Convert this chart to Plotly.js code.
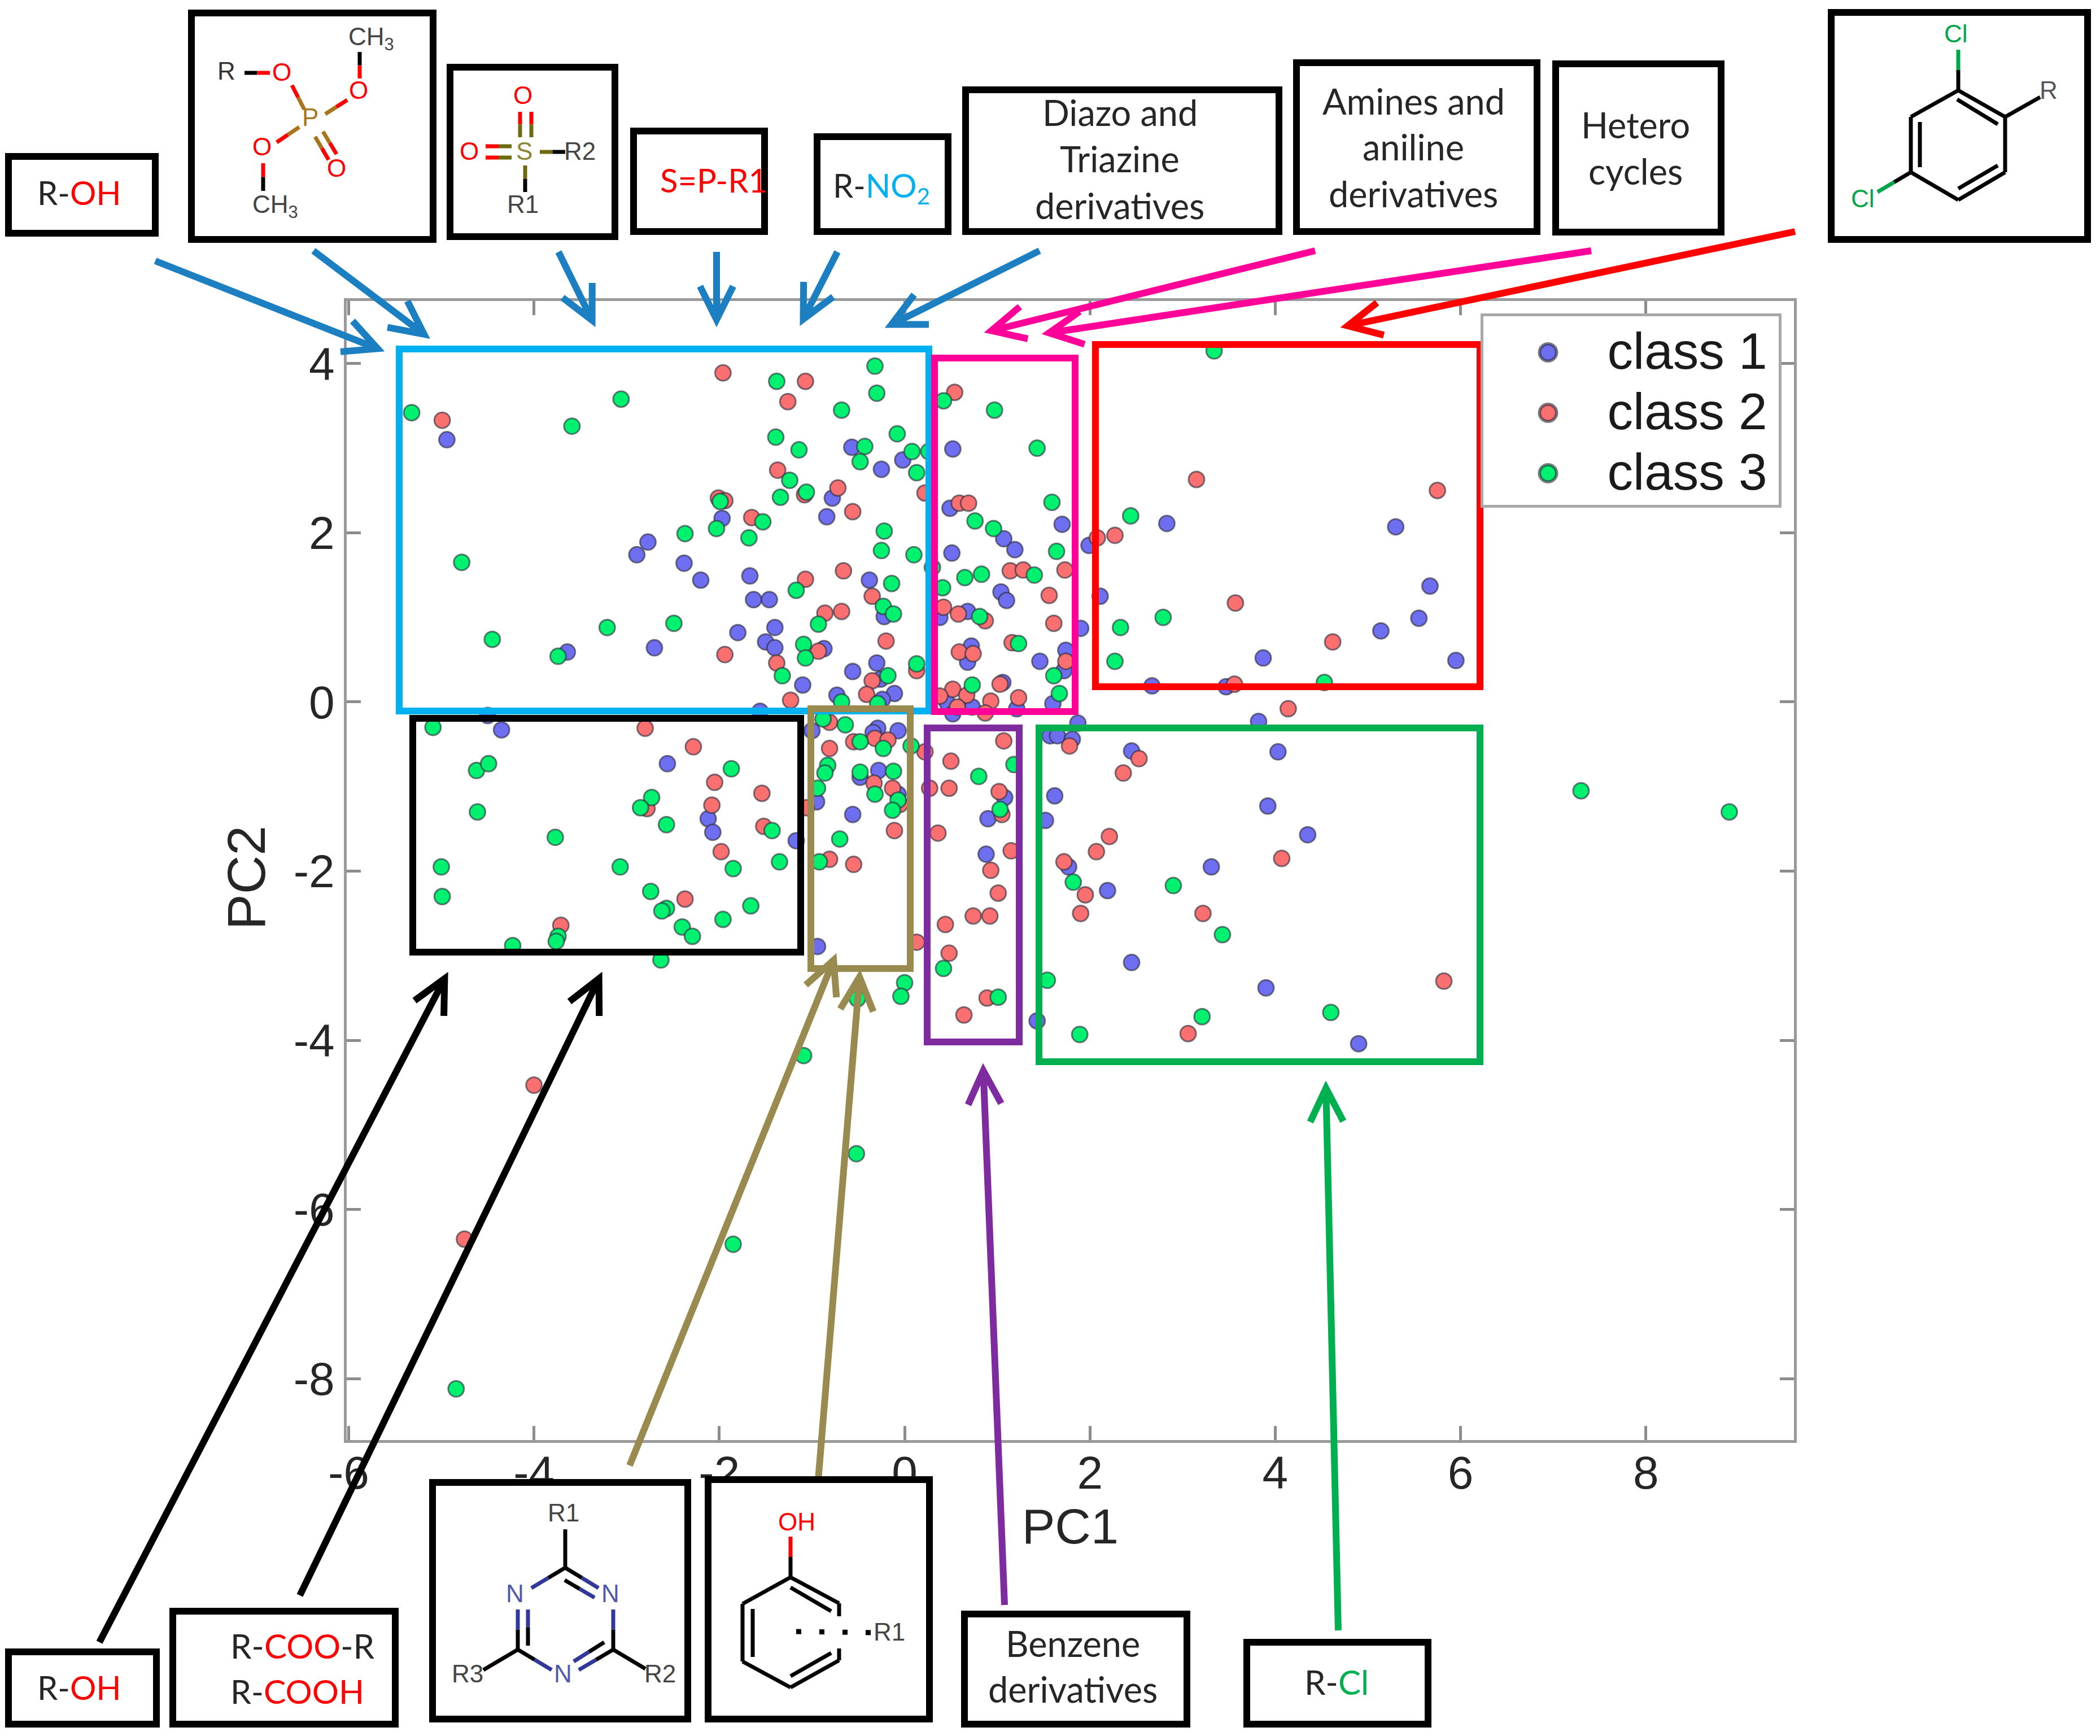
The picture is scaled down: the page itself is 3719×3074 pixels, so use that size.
<!DOCTYPE html>
<html><head><meta charset="utf-8">
<script src="https://cdn.plot.ly/plotly-3.0.1.min.js"></script>
<style>html,body{margin:0;padding:0;background:#fff}</style></head>
<body><div id="chart" style="width:3719px;height:3074px"></div>
<script>
// ---------- data ----------
const class1X = [-0.57,0.52,-0.02,-0.25,-0.78,0.49,-0.84,1.70,-1.97,1.07,1.19,-2.77,-2.89,0.51,-2.38,-2.20,-1.67,-0.38,-1.63,-1.46,1.04,1.10,0.68,-0.22,0.38,-1.40,-1.80,-1.50,-1.40,-0.87,-2.70,-3.64,-0.30,-0.56,0.72,0.68,1.46,1.74,1.72,-1.10,-0.26,1.06,-0.11,-0.73,-0.24,1.60,0.46,0.73,-1.56,1.21,0.52,
 -2.56,-1.00,-0.29,-0.34,-0.07,-0.28,-0.48,-0.07,1.08,-0.95,-0.56,0.90,-2.12,-2.07,-1.17,0.88,-0.94,
 5.67,2.11,5.55,5.14,1.90,3.87,5.95,2.67,3.47,1.87,3.82,1.57,1.65,1.81,2.45,4.03,1.62,3.92,1.52,4.35,1.77,3.31,2.19,2.45,3.90,1.43,4.90,
 5.30,2.83,1.99,-4.94,-4.35,-4.50];
const class1Y = [3.01,2.99,2.86,2.75,2.41,2.29,2.19,2.10,2.17,1.93,1.80,1.89,1.74,1.76,1.64,1.44,1.49,1.44,1.21,1.21,1.30,1.20,1.07,1.01,1.00,0.88,0.82,0.71,0.64,0.63,0.64,0.59,0.46,0.36,0.66,0.47,0.48,0.61,0.37,0.20,0.27,0.23,0.10,0.08,0.03,-0.02,-0.01,-0.06,-0.11,-0.08,-0.14,
 -0.73,-0.34,-0.31,-0.36,-0.34,-0.81,-0.89,-1.09,-1.13,-1.18,-1.33,-1.38,-1.38,-1.54,-1.64,-1.80,-2.89,
 1.37,1.25,0.99,0.84,0.87,0.52,0.49,0.19,0.18,-0.25,-0.23,-0.40,-0.40,-0.44,-0.58,-0.59,-1.11,-1.23,-1.40,-1.57,-1.95,-1.95,-2.23,-3.08,-3.38,-3.77,-4.04,
 2.07,2.11,1.85,3.10,-0.33,-0.16];
const class2X = [-1.96,-1.07,-1.26,0.54,-1.37,-0.72,0.22,-2.01,-1.94,-1.08,-1.65,-0.56,0.59,0.69,-0.66,-1.07,1.14,1.28,1.73,-0.35,1.56,-0.86,-0.68,0.42,0.58,0.87,1.61,-0.20,-1.94,-0.93,1.16,0.59,0.74,-1.38,0.13,-0.35,1.74,1.03,0.52,-0.41,0.38,0.67,1.23,0.93,-1.23,0.57,0.87,
 -2.80,-0.81,-2.28,-0.81,-0.55,-0.32,-0.18,0.22,1.07,0.50,-2.05,-0.33,-0.13,-1.54,0.27,0.48,1.02,-2.08,1.05,-2.78,-1.06,-1.52,-0.11,0.36,1.15,-1.98,-0.81,-0.55,0.93,1.01,-2.37,0.74,0.92,0.44,0.13,0.48,0.89,0.64,-0.05,
 3.57,4.62,3.56,4.14,1.78,2.53,2.36,2.21,2.07,1.72,4.07,1.95,1.90,3.22,5.82,3.06,
 3.15,5.75,2.27,2.08,-4.99,-3.71,-4.00,-4.75];
const class2Y = [3.89,3.79,3.55,3.66,2.74,2.53,2.47,2.41,2.38,2.45,2.18,2.25,2.35,2.35,1.55,1.45,1.55,1.56,1.56,1.25,1.26,1.05,1.07,1.12,1.04,0.96,0.93,0.72,0.56,0.60,0.70,0.59,0.57,0.46,0.37,0.25,0.48,0.21,0.15,0.09,0.07,0.08,0.05,0.01,0.02,-0.06,-0.13,
 -0.31,-0.24,-0.53,-0.55,-0.47,-0.43,-0.45,-0.59,-0.46,-0.70,-0.95,-0.96,-1.02,-1.08,-1.02,-1.02,-1.06,-1.22,-1.33,-1.26,-1.25,-1.47,-1.52,-1.55,-1.76,-1.77,-1.86,-1.92,-1.99,-2.26,-2.33,-2.53,-2.53,-2.63,-2.84,-2.97,-3.50,-3.70,-1.21,
 1.17,0.71,0.21,-0.08,-0.52,-0.67,-0.84,-1.59,-1.77,-1.89,-1.85,-2.28,-2.50,-2.50,-3.30,-3.92,
 2.63,2.50,1.97,1.94,3.33,-2.64,-4.53,-6.35];
const class3X = [-0.32,-1.38,-0.30,-3.06,-3.59,-0.68,0.42,0.97,-0.08,-1.39,-1.14,-0.43,0.08,0.26,-0.48,0.13,-1.24,1.43,-1.34,-1.06,-1.99,1.59,0.76,0.96,-1.53,-2.03,-2.37,-1.68,-0.22,-0.25,0.10,1.64,0.30,0.83,0.65,1.40,0.41,-0.14,-1.17,-0.23,-0.12,-0.93,0.81,-3.21,-2.49,1.23,-1.09,-1.07,-1.32,0.13,-0.18,1.61,0.73,1.67,-0.68,-0.29,
 -0.88,-0.64,-0.48,-0.23,0.07,-1.87,-0.83,-0.86,0.80,1.18,-0.48,-0.12,-2.73,-2.85,-0.94,-0.32,-0.07,-0.13,1.03,-2.57,-1.43,-0.70,-1.35,-0.92,-3.07,-1.85,-2.74,-2.57,-2.62,-1.66,-1.96,-2.40,-2.29,-2.63,0.42,0.00,-0.04,-0.51,1.01,-1.09,
 2.79,2.33,2.27,4.53,1.82,2.90,3.43,1.54,4.60,3.21,1.89,
 3.34,2.44,-5.32,-4.78,-4.45,-3.74,-5.09,-4.62,-4.49,-4.61,-3.77,-5.00,-4.99,-4.23,-3.74,-3.76,-4.84,-1.85,-0.52,7.30,8.90];
const class3Y = [3.97,3.79,3.65,3.58,3.26,3.45,3.56,3.45,3.17,3.13,2.98,3.02,2.96,2.96,2.84,2.71,2.62,3.00,2.42,2.48,2.37,2.36,2.14,2.05,2.13,2.05,1.99,1.94,2.02,1.79,1.74,1.78,1.59,1.51,1.47,1.50,1.35,1.40,1.32,1.13,1.04,0.92,1.01,0.88,0.93,0.69,0.68,0.52,0.31,0.45,0.31,0.31,0.20,0.10,0.00,-0.02,
 -0.20,-0.27,-0.47,-0.55,-0.52,-0.79,-0.75,-0.84,-0.88,-0.74,-0.83,-0.82,-1.13,-1.25,-1.02,-1.09,-1.16,-1.28,-1.27,-1.45,-1.52,-1.62,-1.89,-1.89,-1.95,-1.97,-2.24,-2.44,-2.47,-2.41,-2.57,-2.66,-2.77,-3.05,-3.15,-3.32,-3.48,-3.51,-3.49,-4.18,
 1.00,0.88,0.48,0.23,-2.13,-2.17,-2.75,-3.29,-3.67,-3.72,-3.93,
 4.15,2.20,3.42,1.65,0.74,0.54,-0.30,-0.81,-0.73,-1.30,-1.60,-1.95,-2.30,-2.88,-2.77,-2.83,-8.12,-6.41,-5.34,-1.05,-1.30];
const seriesNames = ['class 1','class 2','class 3'];
const xTickVals = [-6,-4,-2,0,2,4,6,8];
const xTickText = ['-6','-4','-2','0','2','4','6','8'];
const yTickVals = [4,2,0,-2,-4,-6,-8];
const yTickText = ['4','2','0','-2','-4','-6','-8'];

// ---------- page helpers ----------
const W=3719,H=3074;
const px=x=>x/W, py=y=>1-y/H;
const shapes=[], notes=[];
function rect(x0,y0,x1,y1,color,fill){
  shapes.push({type:'rect',xref:'paper',yref:'paper',x0:px(x0),x1:px(x1),y0:py(y0),y1:py(y1),
    line:{color:color,width:12},fillcolor:fill||'rgba(0,0,0,0)'});
}
function seg(x0,y0,x1,y1,color,w){
  shapes.push({type:'line',xref:'paper',yref:'paper',x0:px(x0),x1:px(x1),y0:py(y0),y1:py(y1),
    line:{color:color,width:w||7}});
}
function bond(x0,y0,x1,y1,c0,c1,w){
  const mx=(x0+x1)/2,my=(y0+y1)/2;
  seg(x0,y0,mx,my,c0,w); seg(mx,my,x1,y1,c1||c0,w);
}
function arrow(x0,y0,x1,y1,color,w){
  const a=Math.atan2(y1-y0,x1-x0),L=66,s=0.46;
  const tx=x1-10*Math.cos(a),ty=y1-10*Math.sin(a);
  const ax=tx-L*Math.cos(a-s),ay=ty-L*Math.sin(a-s),bx=tx-L*Math.cos(a+s),by=ty-L*Math.sin(a+s);
  const f=(x,y)=>px(x)+' '+py(y);
  shapes.push({type:'path',xref:'paper',yref:'paper',
    path:'M'+f(x0,y0)+' L'+f(tx,ty)+' M'+f(ax,ay)+' L'+f(tx,ty)+' L'+f(bx,by),
    line:{color:color,width:w||12}});
}
function label(x,y,text,size,color,family,anchor){
  notes.push({xref:'paper',yref:'paper',x:px(x),y:py(y),text:text,showarrow:false,
    xanchor:anchor||'center',yanchor:'middle',
    font:{family:family||'Lato',size:size,color:color||'#262626'}});
}
const RED='#ff0000',K='#000000',BR='#a8741c',OL='#6e6a10',NV='#32389a',GR='#00a648';
const chem='"Liberation Sans"';

// highlight boxes
rect(707,618,1645,1259,'#00b0f0');
rect(1655,634,1904,1260,'#ff0099');
rect(1940,610,2621,1216,'#ff0000');
rect(1840,1289,2621,1880,'#00b050');
rect(1642,1289,1805,1845,'#7e2ba0');
rect(731,1272,1418,1686,'#000000');
rect(1436,1255,1612,1715,'#998a50');

// arrows
const arrowBlue='#1c7fc2';
arrow(275,462,678,621,arrowBlue);
arrow(555,444,759,598,arrowBlue);
arrow(989,446,1053,576,arrowBlue);
arrow(1269,446,1269,576,arrowBlue);
arrow(1483,446,1418,574,arrowBlue);
arrow(1841,444,1570,579,arrowBlue);
arrow(2329,444,1746,588,'#ff0099');
arrow(2818,444,1848,591,'#ff0099');
arrow(3179,410,2377,579,'#ff0000');
arrow(176,2908,792,1724,'#000000');
arrow(531,2825,1065,1724,'#000000');
arrow(1115,2595,1480,1691,'#998a50');
arrow(1449,2621,1523,1720,'#998a50');
arrow(1779,2842,1741,1886,'#7e2ba0');
arrow(2370,2887,2348,1917,'#00b050');

// black label boxes
[[15,277,275,413],[339,23,767,424],[797,119,1089,419],[1122,232,1354,410],[1447,242,1679,410],
 [1710,159,2265,410],[2296,111,2722,410],[2755,113,3048,411],[3243,22,3697,424],
 [766,2625,1218,3044],[1254,2620,1646,3044],[15,2925,277,3053],[306,2853,700,3053],
 [1708,2858,2102,3053],[2208,2908,2529,3053]].forEach(b=>rect(b[0],b[1],b[2],b[3],'#000000','#ffffff'));

// box texts
const s=63, s2=58;
const red=t=>'<span style="color:#ff0000">'+t+'</span>';
label(140,340,'R-'+red('OH'),s2);
label(1264,319,red('S=P-R1'),s2);
label(1561,332,'R-<span style="color:#00b0f0">NO<sub>2</sub></span>',s2);
label(1983,198,'Diazo and',s); label(1983,281,'Triazine',s); label(1983,364,'derivatives',s);
label(2503,179,'Amines and',s); label(2503,259,'aniline',s); label(2503,342,'derivatives',s);
label(2896,221,'Hetero',s); label(2896,302,'cycles',s);
label(140,2987,'R-'+red('OH'),s2);
label(406,2914,'R-'+red('COO')+'-R',60,null,null,'left');
label(406,2994,'R-'+red('COOH'),59,null,null,'left');
label(1900,2909,'Benzene',s); label(1900,2990,'derivatives',s);
label(2367,2978,'R-<span style="color:#00b050">Cl</span>',s2+2);

// phosphate structure
label(401,125,'R',44,'#333',chem); label(499,127,'O',44,RED,chem); label(549,208,'P',44,BR,chem);
label(635,160,'O',44,RED,chem); label(464,259,'O',44,RED,chem); label(596,297,'O',44,RED,chem);
label(657,68,'CH<sub>3</sub>',44,'#444',chem); label(488,365,'CH<sub>3</sub>',44,'#444',chem);
bond(433,129,478,129,K,RED); bond(517,151,539,194,RED,BR); bond(615,177,576,202,RED,BR);
bond(637,139,637,92,RED,K); bond(490,252,530,225,RED,BR); bond(466,289,466,338,RED,K);
bond(558,242,582,283,BR,RED); bond(572,233,596,273,BR,RED);
// sulfonyl structure
label(926,168,'O',44,RED,chem); label(928,267,'S',44,'#8a8630',chem); label(831,267,'O',44,RED,chem);
label(1027,267,'R2',44,'#444',chem); label(926,362,'R1',44,'#444',chem);
bond(921,198,921,243,RED,OL); bond(941,198,941,243,RED,OL);
bond(860,259,906,259,RED,OL); bond(860,279,906,279,RED,OL);
bond(956,269,1001,269,OL,K); bond(930,293,930,340,OL,K);
// dichlorophenyl structure
label(3464,60,'Cl',44,GR,chem); label(3628,160,'R',44,'#555',chem); label(3299,352,'Cl',44,GR,chem);
[[3468,160,3551,207],[3551,207,3551,305],[3551,305,3468,354],[3468,354,3384,305],[3384,305,3384,207],[3384,207,3468,160],
 [3466,176,3538,220],[3400,216,3400,296],[3468,334,3538,293],[3551,207,3613,172]].forEach(b=>seg(b[0],b[1],b[2],b[3],K));
bond(3468,88,3468,160,GR,K); bond(3325,340,3384,305,GR,K);
// triazine structure
label(998,2678,'R1',44,'#444',chem); label(912,2821,'N',44,'#5058a8',chem); label(1081,2821,'N',44,'#5058a8',chem);
label(997,2963,'N',44,'#5058a8',chem); label(828,2963,'R3',44,'#444',chem); label(1169,2963,'R2',44,'#444',chem);
seg(1001,2708,1001,2776,K);
bond(1001,2776,941,2812,K,NV); bond(1001,2776,1060,2812,K,NV); bond(1000,2798,1053,2829,K,NV);
bond(917,2850,917,2921,NV,K); bond(935,2850,935,2914,NV,K); bond(1086,2850,1086,2921,NV,K);
bond(917,2921,977,2957,K,NV); bond(1086,2921,1025,2957,K,NV); bond(1070,2908,1016,2942,K,NV);
seg(917,2921,856,2957,K); seg(1086,2921,1143,2955,K);
// phenol structure
label(1411,2694,'OH',44,RED,chem); label(1575,2889,'R1',44,'#444',chem);
bond(1400,2721,1400,2793,RED,K);
[[1400,2793,1486,2839],[1486,2839,1486,2862],[1400,2793,1315,2840],[1315,2840,1315,2942],[1315,2942,1400,2988],
 [1400,2988,1486,2940],[1486,2940,1486,2919],[1400,2811,1472,2853],[1333,2849,1333,2934],[1400,2968,1472,2927]]
 .forEach(b=>seg(b[0],b[1],b[2],b[3],K));
shapes.push({type:'line',xref:'paper',yref:'paper',x0:px(1410),x1:px(1545),y0:py(2889),y1:py(2891),
  line:{color:K,width:9,dash:'9px,32px'}});

// ---------- chart ----------
const colors=['#6e6ef0','#fa7070','#00f070'];
const mk=(i)=>({color:colors[i],size:28,line:{color:'rgba(45,45,60,0.62)',width:3}});
const traces=[[class1X,class1Y],[class2X,class2Y],[class3X,class3Y]].map((d,i)=>({
  type:'scatter',mode:'markers',x:d[0],y:d[1],name:seriesNames[i],marker:mk(i),cliponaxis:true}));
const tickFont={family:'"Liberation Sans"',size:82,color:'#262626'};
const axis={showgrid:false,zeroline:false,showline:true,mirror:'ticks',linecolor:'#9a9a9a',linewidth:5,
  ticks:'inside',ticklen:25,tickwidth:5,tickcolor:'#8c8c8c',tickmode:'array',tickfont:tickFont};
const layout={width:W,height:H,margin:{l:0,r:0,t:0,b:0},paper_bgcolor:'#fff',plot_bgcolor:'#fff',
  xaxis:Object.assign({},axis,{domain:[614/W,3176.5/W],range:[-6.021,9.595],tickvals:xTickVals,ticktext:xTickText,
    ticklabelstandoff:-17,
    title:{text:'PC1',standoff:20,font:{family:'"Liberation Sans"',size:88,color:'#262626'}}}),
  yaxis:Object.assign({},axis,{domain:[1-2549.5/H,1-532.5/H],range:[-8.722,4.743],tickvals:yTickVals,ticktext:yTickText,
    title:{text:'PC2&nbsp;',standoff:20,font:{family:'"Liberation Sans"',size:95,color:'#262626'}}}),
  showlegend:true,
  legend:{x:2621.5/W,y:1-555/H,xanchor:'left',yanchor:'top',bgcolor:'#fff',bordercolor:'#a8a8a8',borderwidth:5,
    itemwidth:210,itemclick:false,font:{family:'"Liberation Sans"',size:91,color:'#1a1a1a'}},
  shapes:shapes,annotations:notes};
const legendRowCentres=[621,728,835];
Plotly.newPlot('chart',traces,layout,{displayModeBar:false,responsive:false}).then(()=>{
  const bg=document.querySelector('.legend .bg');
  if(bg){bg.setAttribute('width',528);bg.setAttribute('height',339);}
  document.querySelectorAll('.legend .traces').forEach((g,i)=>{
    const t=g.querySelector('.legendtext'), r=t.getBoundingClientRect();
    const m=/translate\(\s*([-\d.]+)[ ,]+([-\d.]+)\s*\)/.exec(g.getAttribute('transform')||'');
    if(m){const dy=legendRowCentres[i]-(r.top+r.bottom)/2;
      g.setAttribute('transform','translate('+m[1]+','+(parseFloat(m[2])+dy)+')');}
  });
  document.querySelectorAll('.legend .scatterpts').forEach(p=>{
    p.setAttribute('transform',(p.getAttribute('transform')||'')+' translate(5,7) scale(1.9)');
  });
});
</script></body></html>
